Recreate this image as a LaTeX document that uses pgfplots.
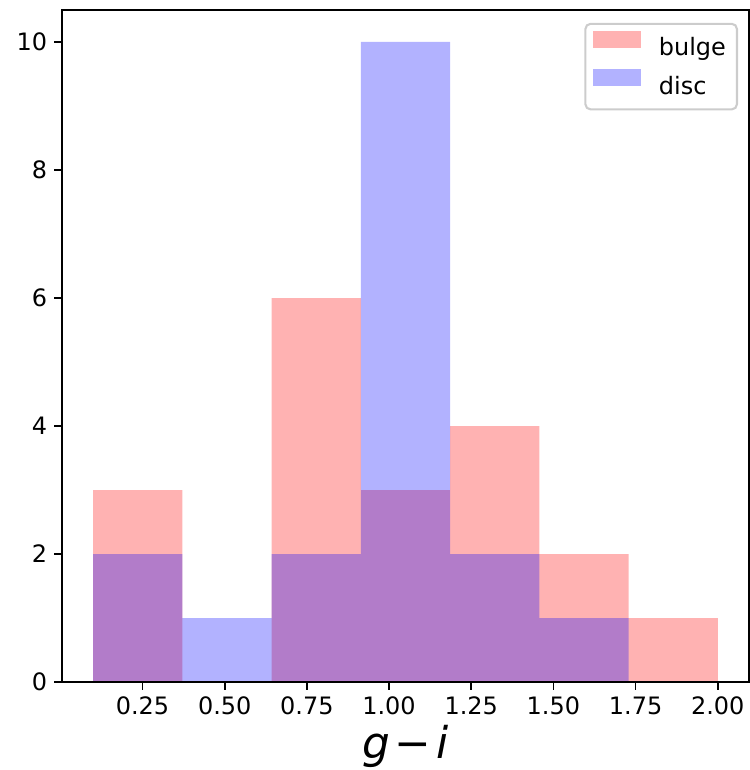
\documentclass[border=0pt]{standalone}
\usepackage{fontspec}
\setmainfont{DejaVu Sans}
\usepackage{pgfplots}
\pgfplotsset{compat=1.18}
\begin{document}
\begin{tikzpicture}
\begin{axis}[
  name=ax,
  scale only axis,
  width=329.8pt, height=322.6pt,
  xmin=0.005, xmax=2.095, ymin=0, ymax=10.5,
  axis on top,
  axis line style={line width=0.8pt},
  tick align=outside,
  tick style={line width=0.8pt, black},
  major tick length=3.6pt,
  xtick={0.25,0.5,0.75,1.0,1.25,1.5,1.75,2.0},
  ytick={0,2,4,6,8,10},
  xtick pos=bottom, ytick pos=left,
  /pgf/number format/assume math mode=true,
  xticklabel style={/pgf/number format/fixed, /pgf/number format/fixed zerofill, /pgf/number format/precision=2, font=\fontsize{11.5}{13}\selectfont},
  yticklabel style={font=\fontsize{11.5}{13}\selectfont},
  xlabel={\textit{g}\hspace{0.1em}−\hspace{0.12em}\textit{i}},
  xlabel style={font=\fontsize{21}{25}\selectfont, yshift=2pt},
  legend style={at={(0.984,0.981)}, anchor=north east, draw=black!20, line width=1pt, rounded corners=2.5pt, fill=white, fill opacity=0.8, text opacity=1, font=\fontsize{11.5}{13.5}\selectfont, row sep=2.5pt, inner xsep=3.8pt, inner ysep=3.4pt,
    nodes={inner sep=1.5pt, text height=0.75em, text depth=0.25em},
    /tikz/every odd column/.append style={column sep=7pt}},
  legend cell align=left,
  legend image code/.code={\fill[#1, sharp corners] (0pt,1.2pt) rectangle (23pt,9.4pt);},
]
\addplot[ybar interval, fill=red, fill opacity=0.3, draw=none] coordinates {
(0.1,3) (0.371429,0) (0.642857,6) (0.914286,3) (1.185714,4) (1.457143,2) (1.728571,1) (2.0,1)};
\addlegendentry{bulge}
\addplot[ybar interval, fill=blue, fill opacity=0.3, draw=none] coordinates {
(0.1,2) (0.371429,1) (0.642857,2) (0.914286,10) (1.185714,2) (1.457143,1) (1.728571,0) (2.0,0)};
\addlegendentry{disc}
\end{axis}
\pgfresetboundingbox
\path ([shift={(-29.76pt,-42.24pt)}]ax.south west) rectangle ([shift={(0.48pt,4.8pt)}]ax.north east);
\end{tikzpicture}
\end{document}
